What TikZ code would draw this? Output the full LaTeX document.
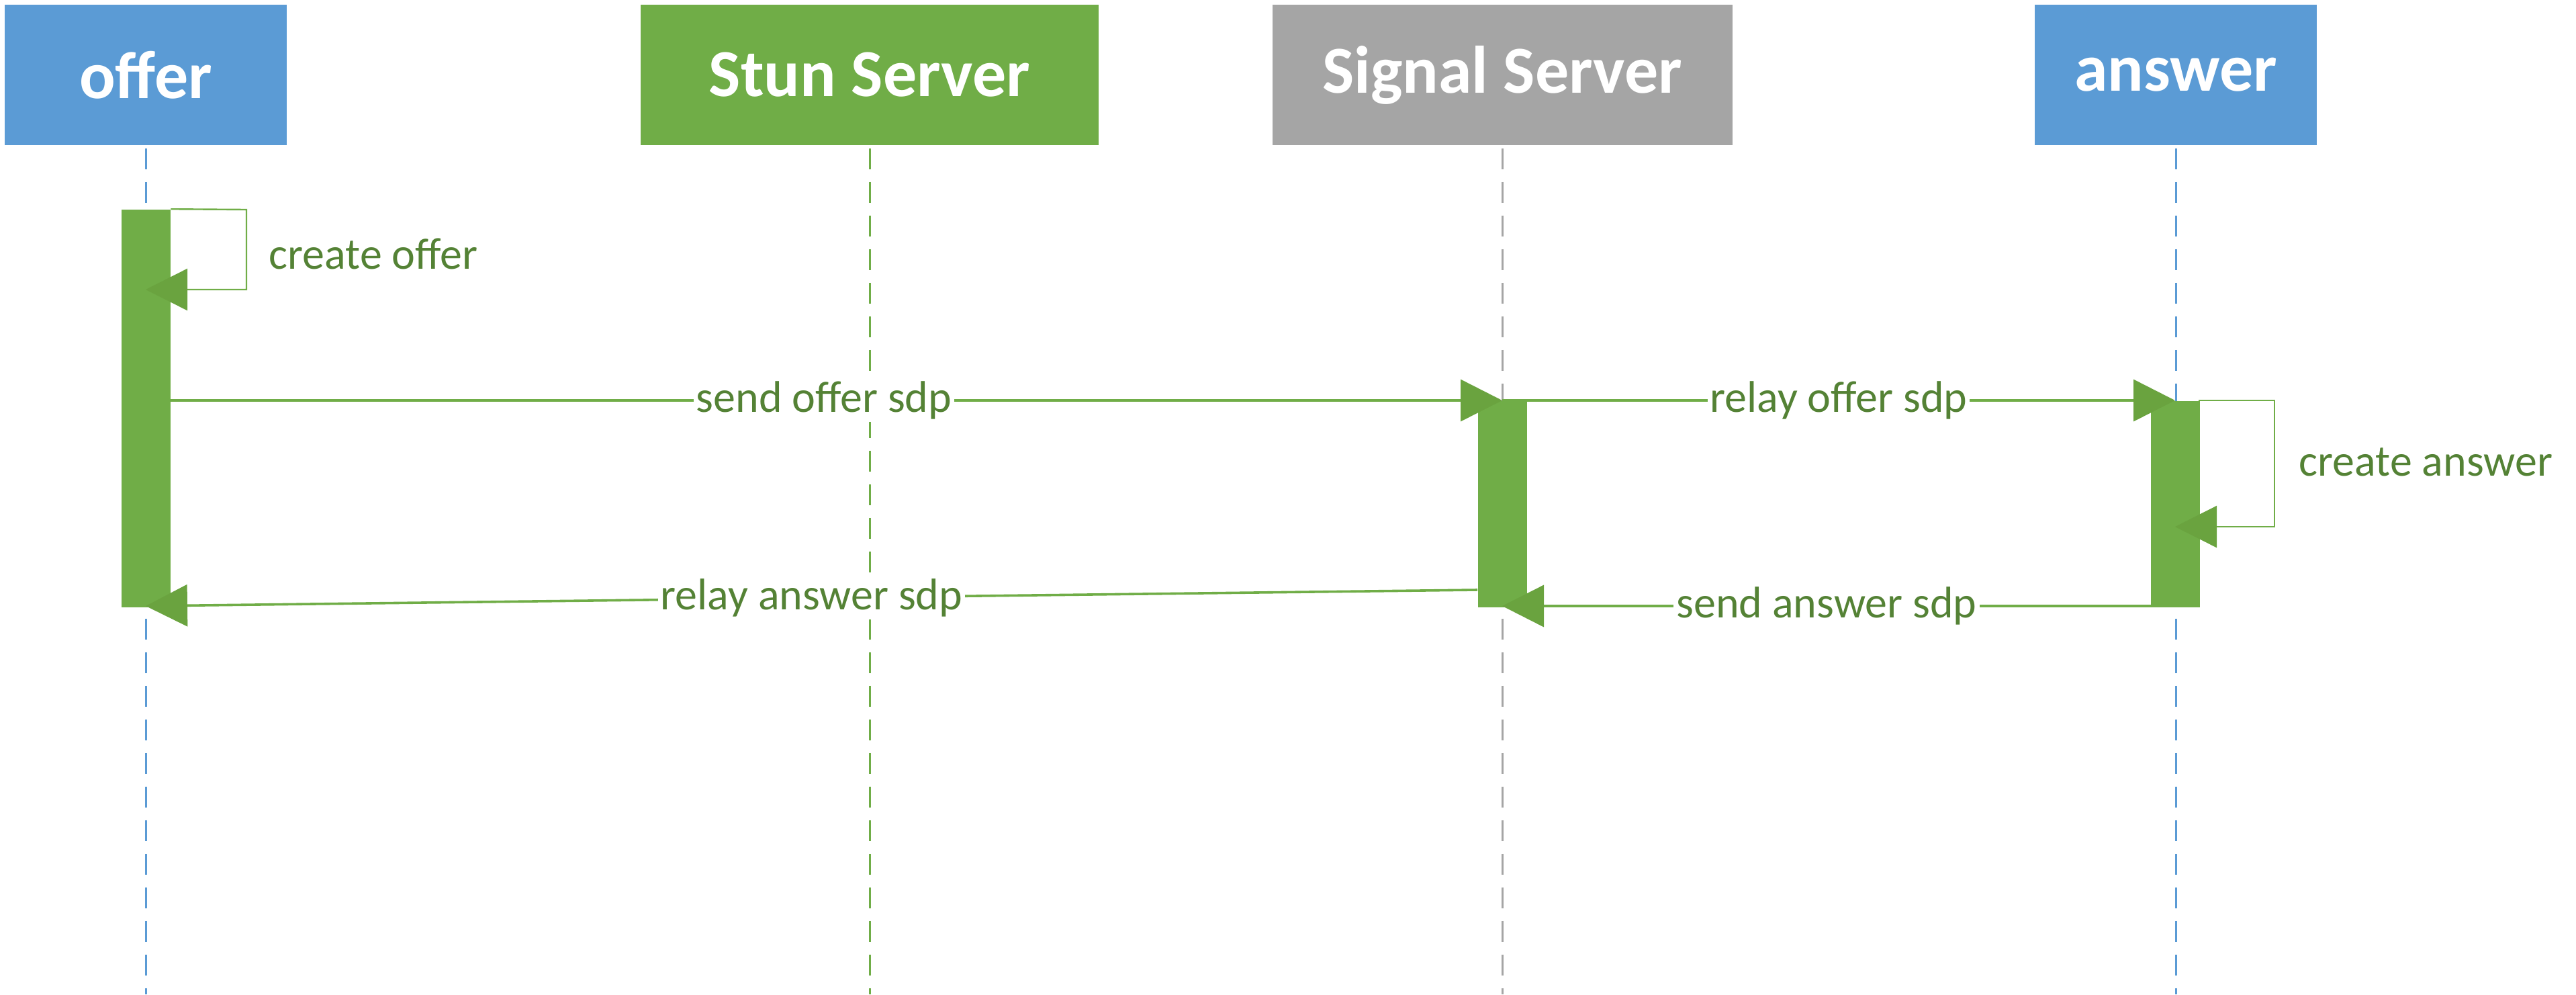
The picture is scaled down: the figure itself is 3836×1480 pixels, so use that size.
\documentclass[tikz,border=0pt]{standalone}
\usepackage{fontspec}
\setmainfont{Carlito}
\usetikzlibrary{arrows.meta}
\definecolor{hblue}{HTML}{5B9BD5}
\definecolor{hgreen}{HTML}{70AD47}
\definecolor{hgray}{HTML}{A5A5A5}
\definecolor{tgreen}{HTML}{548235}
\definecolor{agreen}{HTML}{6AA33F}
\tikzset{
  header/.style={draw=none, inner sep=0pt, minimum height=52.25pt, text=white, font=\fontsize{25}{30}\selectfont\bfseries},
  lifeline/.style={line width=0.75pt, dash pattern=on 7.75pt off 4.75pt},
  actbar/.style={fill=hgreen, draw=none, inner sep=0pt, minimum width=18.25pt},
  msg/.style={draw=hgreen, line width=0.9pt, -{Triangle[length=15.5pt,width=15.5pt,color=agreen]}},
  loopmsg/.style={draw=hgreen, line width=0.6pt, -{Triangle[length=15.5pt,width=15.5pt,color=agreen]}},
  msglabel/.style={fill=white, inner sep=1pt, text=tgreen, font=\fontsize{16.5}{20}\selectfont},
  sidelabel/.style={inner sep=0pt, text=tgreen, font=\fontsize{16.5}{20}\selectfont}
}
\begin{document}
\begin{tikzpicture}[x=0.25pt,y=-0.25pt]
\useasboundingbox (0,0) rectangle (3836,1480);
% headers
\node[header, fill=hblue, minimum width=105pt] (offer) at (217,111.5) {offer};
\node[header, fill=hgreen, minimum width=170.5pt] (stun) at (1295,111.5) {Stun Server};
\node[header, fill=hgray, minimum width=171.25pt] (signal) at (2237,111.5) {Signal Server};
\node[header, fill=hblue, minimum width=105pt] (answer) at (3240,111.5) {answer};
% lifeline ends
\coordinate (offerEnd) at (217,1480);
\coordinate (stunEnd) at (1295,1480);
\coordinate (signalEnd) at (2237,1480);
\coordinate (answerEnd) at (3240,1480);
\draw[lifeline, hblue] ([yshift=-1pt]offer.south) -- (offerEnd);
\draw[lifeline, hgreen] ([yshift=-1pt]stun.south) -- (stunEnd);
\draw[lifeline, hgray] ([yshift=-1pt]signal.south) -- (signalEnd);
\draw[lifeline, hblue] ([yshift=-1pt]answer.south) -- (answerEnd);
% activation bars
\node[actbar, minimum height=148pt] (obar) at (217,608) {};
\node[actbar, minimum height=76.75pt] (sbar) at (2237,750.5) {};
\node[actbar, minimum height=76.75pt] (abar) at (3239,750.5) {};
% points
\coordinate (o1) at (217,596);
\coordinate (s1) at (2237,596);
\coordinate (a1) at (3239,596);
\coordinate (ol1) at (367,312);
\coordinate (ol2) at (367,431);
\coordinate (ol3) at (217,431);
\coordinate (al0) at (3274,596);
\coordinate (al1) at (3387,596);
\coordinate (al2) at (3387,784);
\coordinate (al3) at (3239,784);
\coordinate (a2) at (3203,902);
\coordinate (s2) at (2237,902);
\coordinate (s3) at (2200,878);
\coordinate (o2) at (217,902);
% create offer loop
\draw[loopmsg] (obar.north east) -- (ol1) -- (ol2) -- (ol3);
\node[sidelabel, anchor=base west] (lco) at (400,400) {create offer};
% send offer sdp
\draw[msg] (o1) -- node[msglabel] (lso) {send offer sdp} (s1);
% relay offer sdp
\draw[msg] (s1) -- node[msglabel] (lro) {relay offer sdp} (a1);
% create answer loop
\draw[loopmsg] (al0) -- (al1) -- (al2) -- (al3);
\node[sidelabel, anchor=base west] (lca) at (3423,708) {create answer};
% send answer sdp
\draw[msg] (a2) -- node[msglabel] (lsa) {send answer sdp} (s2);
% relay answer sdp
\draw[msg] (s3) -- node[msglabel] (lra) {relay answer sdp} (o2);
\end{tikzpicture}
\end{document}
